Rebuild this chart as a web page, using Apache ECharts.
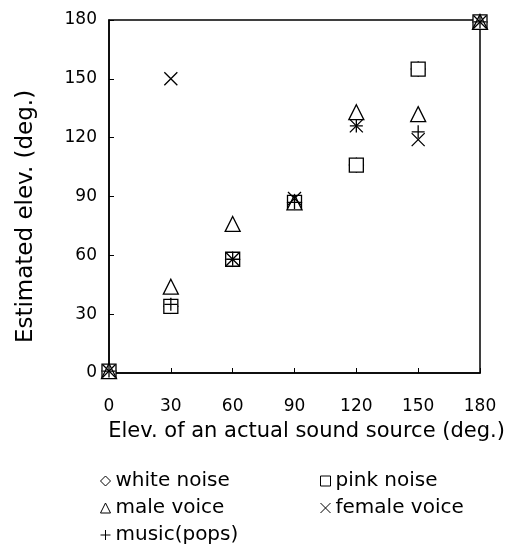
<!DOCTYPE html>
<html><head><meta charset="utf-8">
<script src="https://cdn.jsdelivr.net/npm/echarts@6/dist/echarts.min.js"></script>
<style>html,body{margin:0;padding:0;background:#fff}#c{width:510px;height:545px}</style>
</head><body><div id="c"></div>
<script>
const xValues = [0, 30, 60, 90, 120, 150, 180];
const whiteNoise = [1, 34, 58, 87, 106, 155, 179];
const pinkNoise = [1, 34, 58, 87, 106, 155, 179];
const maleVoice = [1, 44, 76, 87, 133, 132, 179];
const femaleVoice = [1, 150, 58, 89, 126, 119, 179];
const musicPops = [1, 35, 58, 87, 126, 123, 179];
const seriesNames = ['white noise', 'pink noise', 'male voice', 'female voice', 'music(pops)'];

const FONT = 'DejaVu Sans';
const crossPath = 'path://M0,0L10,10M10,0L0,10';
const plusPath = 'path://M5,0L5,10M0,5L10,5';

function pts(arr){ return xValues.map((x,i)=>[x, arr[i]]); }
function mk(name, data, symbol, size){
  return {
    name, type:'scatter', data: pts(data), symbol, symbolSize: size,
    itemStyle:{color:'#fff', borderColor:'#000', borderWidth:1.3, opacity:1},
    emphasis:{disabled:true}
  };
}
const series = [
  mk(seriesNames[0], whiteNoise, 'diamond', 14),
  mk(seriesNames[1], pinkNoise, 'rect', 14),
  mk(seriesNames[2], maleVoice, 'triangle', 15),
  mk(seriesNames[3], femaleVoice, crossPath, 13),
  mk(seriesNames[4], musicPops, plusPath, 13)
];
series[3].itemStyle.color = 'transparent';
series[4].itemStyle.color = 'transparent';

function lg(name, left, top){
  return {data:[name], left, top, itemWidth:10, itemHeight:10, itemGap:6, selectedMode:false,
    itemStyle:{borderWidth:1},
    textStyle:{fontFamily:FONT, fontSize:20, color:'#000'}};
}

const chart = echarts.init(document.getElementById('c'));
chart.setOption({
  animation:false,
  grid:{left:109, top:20, width:371, height:353, show:true, borderColor:'#000', borderWidth:1.5},
  legend:[
    lg(seriesNames[0], 95, 466),
    lg(seriesNames[1], 315, 466),
    lg(seriesNames[2], 95, 493),
    lg(seriesNames[3], 315, 493),
    lg(seriesNames[4], 95, 520)
  ],
  xAxis:{type:'value', min:0, max:180, interval:30,
    name:'Elev. of an actual sound source (deg.)', nameLocation:'middle', nameGap:48,
    nameTextStyle:{fontFamily:FONT, fontSize:21, color:'#000', padding:[0,0,0,24]},
    axisLine:{lineStyle:{color:'#000', width:1.5}},
    axisTick:{inside:true, length:5, lineStyle:{color:'#000'}},
    axisLabel:{fontFamily:FONT, fontSize:17, color:'#000', margin:25},
    splitLine:{show:false}},
  yAxis:{type:'value', min:0, max:180, interval:30,
    name:'Estimated elev. (deg.)', nameLocation:'middle', nameGap:71,
    nameTextStyle:{fontFamily:FONT, fontSize:23, color:'#000', padding:[0,40,0,0]},
    axisLine:{lineStyle:{color:'#000', width:1.5}},
    axisTick:{inside:true, length:5, lineStyle:{color:'#000'}},
    axisLabel:{fontFamily:FONT, fontSize:17, color:'#000', margin:12},
    splitLine:{show:false}},
  series
});
</script></body></html>
